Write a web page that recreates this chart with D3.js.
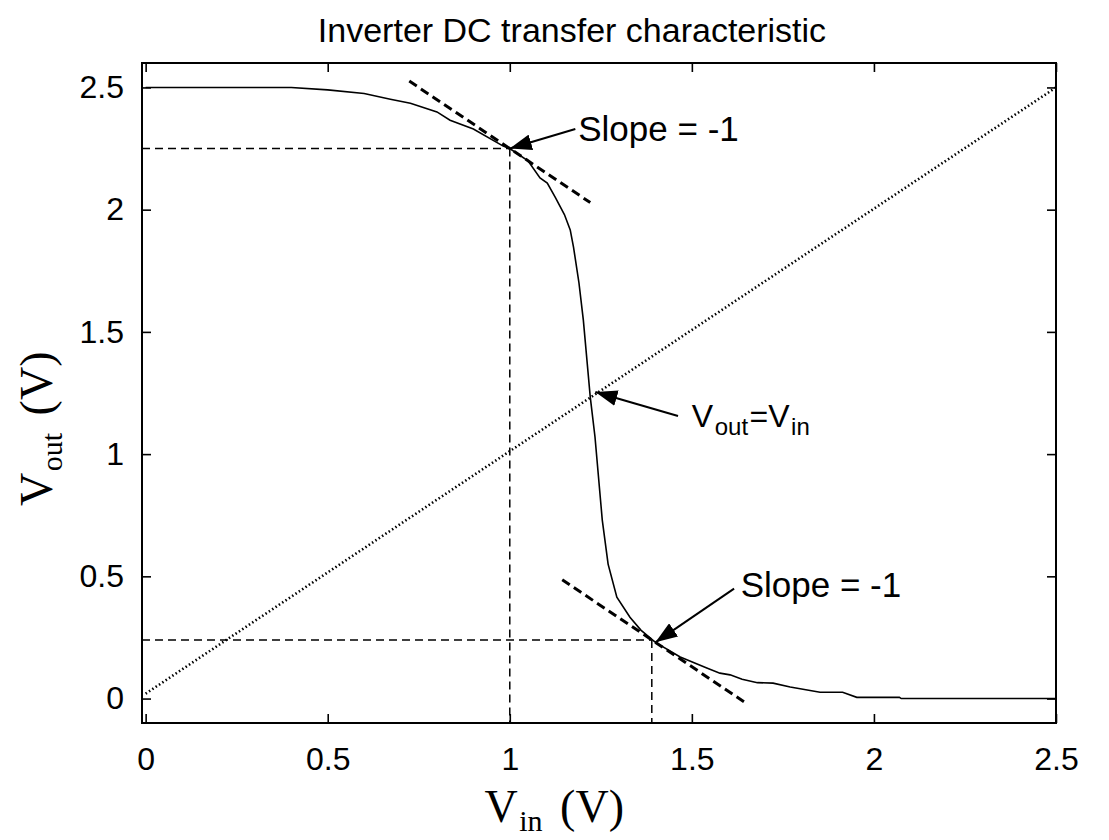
<!DOCTYPE html>
<html>
<head>
<meta charset="utf-8">
<script src="https://cdn.jsdelivr.net/npm/d3@7"></script>
<style>
  body { margin: 0; background: #fff; }
  text { fill: #000; }
</style>
</head>
<body>
<svg width="1109" height="840"></svg>
<script>
// VTC curve
const vinValues = [0, 0.2, 0.4, 0.5, 0.6, 0.672, 0.727, 0.8, 0.836, 0.9, 0.982, 1.0, 1.05, 1.083, 1.103,
  1.125, 1.15, 1.166, 1.175, 1.19, 1.202, 1.221, 1.234, 1.254, 1.27, 1.294, 1.33, 1.36, 1.40, 1.468,
  1.541, 1.577, 1.605, 1.638, 1.68, 1.723, 1.77, 1.852, 1.914, 1.953, 2.07, 2.075, 2.5]
const voutValues = [2.5, 2.5, 2.5, 2.49, 2.475, 2.452, 2.435, 2.4, 2.366, 2.33, 2.26, 2.25, 2.2, 2.13, 2.109,
  2.05, 1.98, 1.917, 1.847, 1.7, 1.548, 1.233, 1.07, 0.73, 0.55, 0.415, 0.333, 0.28, 0.23, 0.17,
  0.125, 0.104, 0.097, 0.079, 0.065, 0.063, 0.047, 0.026, 0.026, 0.005, 0.005, 0, 0]

const unityX = [0, 2.5]
const unityY = [0.02, 2.5]

// tangent lines with slope -1
const tangentHigh = {x: [0.724, 1.221], y: [2.526, 2.029]}
const tangentLow = {x: [1.144, 1.643], y: [0.486, -0.013]}

// operating points: VIL/VOH and VIH/VOL
const vil = 1.0, voh = 2.25
const vih = 1.39, vol = 0.24

const xTicks = [0, 0.5, 1, 1.5, 2, 2.5]
const yTicks = [0, 0.5, 1, 1.5, 2, 2.5]

const svg = d3.select('svg')
const margin = {left: 142, right: 53, top: 63, bottom: 117}
const width = +svg.attr('width')
const height = +svg.attr('height')
const innerWidth = width - margin.left - margin.right
const innerHeight = height - margin.top - margin.bottom

const sans = '"Liberation Sans", Arial, sans-serif'
const serif = '"Liberation Serif", "Times New Roman", serif'

const xScale = d3.scaleLinear().domain([-0.01, 2.5]).range([0, innerWidth])
const yScale = d3.scaleLinear().domain([-0.1, 2.6]).range([innerHeight, 0])

const g = svg.append('g')
  .attr('transform', `translate(${margin.left}, ${margin.top})`)

const defs = svg.append('defs')
defs.append('marker')
  .attr('id', 'head')
  .attr('viewBox', '0 0 22 16')
  .attr('refX', 22).attr('refY', 8)
  .attr('markerWidth', 22).attr('markerHeight', 16)
  .attr('markerUnits', 'userSpaceOnUse')
  .attr('orient', 'auto')
  .append('path')
  .attr('d', 'M0,0 L22,8 L0,16 Z')
  .attr('fill', '#000')

// axes, ticks pointing inward
const tickLen = -9
const styleAxis = sel => {
  sel.attr('font-size', 32).attr('font-family', sans)
  sel.select('.domain').remove()
  sel.selectAll('.tick line').attr('stroke', '#000').attr('stroke-width', 1.6)
  sel.selectAll('.tick text').attr('fill', '#000')
}
const noLabels = sel => sel.selectAll('.tick text').remove()

g.append('g')
  .attr('transform', `translate(0, ${innerHeight})`)
  .call(d3.axisBottom(xScale).tickValues(xTicks).tickSize(tickLen).tickSizeOuter(0).tickPadding(24).tickFormat(d3.format('')))
  .call(styleAxis)
g.append('g')
  .call(d3.axisTop(xScale).tickValues(xTicks).tickSize(tickLen).tickSizeOuter(0))
  .call(styleAxis)
  .call(noLabels)
g.append('g')
  .call(d3.axisLeft(yScale).tickValues(yTicks).tickSize(tickLen).tickSizeOuter(0).tickPadding(18).tickFormat(d3.format('')))
  .call(styleAxis)
g.append('g')
  .attr('transform', `translate(${innerWidth}, 0)`)
  .call(d3.axisRight(yScale).tickValues(yTicks).tickSize(tickLen).tickSizeOuter(0))
  .call(styleAxis)
  .call(noLabels)

const line = d3.line().x(d => xScale(d[0])).y(d => yScale(d[1]))

// guide lines to the operating points
const guides = [
  [[-0.01, voh], [vil, voh]],
  [[vil, voh], [vil, -0.1]],
  [[-0.01, vol], [vih, vol]],
  [[vih, vol], [vih, -0.1]]
]
g.selectAll('.guide')
  .data(guides)
  .enter().append('path')
  .attr('class', 'guide')
  .attr('d', line)
  .attr('fill', 'none')
  .attr('stroke', '#000')
  .attr('stroke-width', 1.5)
  .attr('stroke-dasharray', '8,5')

// y = x reference
g.append('path')
  .attr('d', line(d3.zip(unityX, unityY)))
  .attr('fill', 'none')
  .attr('stroke', '#000')
  .attr('stroke-width', 2.6)
  .attr('stroke-dasharray', '1.5,2.5')

// tangents
g.selectAll('.tangent')
  .data([tangentHigh, tangentLow])
  .enter().append('path')
  .attr('class', 'tangent')
  .attr('d', d => line(d3.zip(d.x, d.y)))
  .attr('fill', 'none')
  .attr('stroke', '#000')
  .attr('stroke-width', 3)
  .attr('stroke-dasharray', '9,5')

// transfer curve
g.append('path')
  .attr('d', line(d3.zip(vinValues, voutValues)))
  .attr('fill', 'none')
  .attr('stroke', '#000')
  .attr('stroke-width', 1.6)

// annotations
const arrows = [
  {from: [1.18, 2.33], to: [vil, voh]},
  {from: [1.616, 0.45], to: [1.4, 0.23]},
  {from: [1.462, 1.156], to: [1.235, 1.254]}
]
g.selectAll('.arrow')
  .data(arrows)
  .enter().append('path')
  .attr('class', 'arrow')
  .attr('d', d => line([d.from, d.to]))
  .attr('stroke', '#000')
  .attr('stroke-width', 2)
  .attr('marker-end', 'url(#head)')

g.selectAll('.slope')
  .data([[1.188, 2.33], [1.634, 0.464]])
  .enter().append('text')
  .attr('class', 'slope')
  .attr('x', d => xScale(d[0]))
  .attr('y', d => yScale(d[1]))
  .attr('dy', '0.35em')
  .attr('font-family', sans)
  .attr('font-size', 35)
  .text('Slope = -1')

// text with subscripts, each piece its own <text>, laid out by measured width
const richText = (parent, x, y, parts, family, centered) => {
  const grp = parent.append('g')
  let cx = 0
  parts.forEach(p => {
    const t = grp.append('text')
      .attr('x', cx + (p.gap || 0))
      .attr('y', p.dy || 0)
      .attr('font-family', family)
      .attr('font-size', p.size)
      .text(p.t)
    cx += (p.gap || 0) + t.node().getComputedTextLength() + 1.5
  })
  grp.attr('transform', `translate(${centered ? x - cx / 2 : x}, ${y})`)
  return grp
}

richText(g, xScale(1.5), yScale(1.11), [
  {t: 'V', size: 32}, {t: 'out', size: 24, dy: 8}, {t: '=V', size: 32}, {t: 'in', size: 24, dy: 8}
], sans, false)

// frame
g.append('rect')
  .attr('width', innerWidth)
  .attr('height', innerHeight)
  .attr('fill', 'none')
  .attr('stroke', '#000')
  .attr('stroke-width', 2)

// title and axis labels
svg.append('text')
  .attr('x', 572)
  .attr('y', 42)
  .attr('text-anchor', 'middle')
  .attr('font-family', sans)
  .attr('font-size', 34)
  .text('Inverter DC transfer characteristic')

richText(svg, margin.left + innerWidth / 2 - 44, 822, [
  {t: 'V', size: 46}, {t: 'in', size: 30, dy: 9}, {t: '(V)', size: 46, gap: 16}
], serif, true)

const yLabelG = svg.append('g')
  .attr('transform', 'translate(52, 428) rotate(-90)')
richText(yLabelG, 0, 0, [
  {t: 'V', size: 46}, {t: 'out', size: 30, dy: 10}, {t: '(V)', size: 46, gap: 16}
], serif, true)
</script>
</body>
</html>
